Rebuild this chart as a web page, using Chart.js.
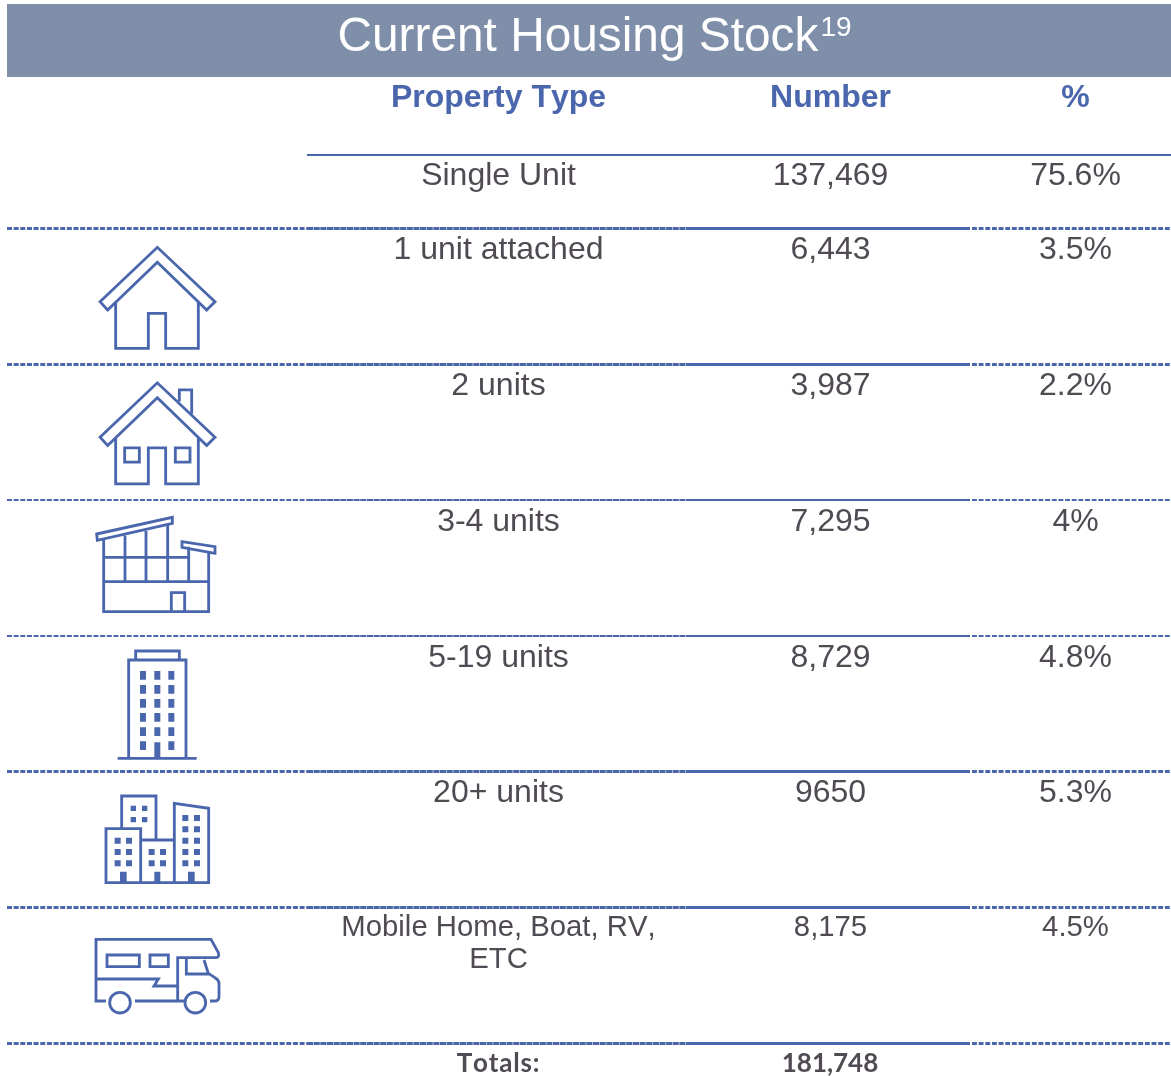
<!DOCTYPE html>
<html lang="en">
<head>
<meta charset="utf-8">
<title>Current Housing Stock</title>
<script src="https://cdn.jsdelivr.net/npm/chart.js@4"></script>
<style>
html,body{margin:0;padding:0;background:#fff;overflow:hidden}
canvas{display:block}
</style>
</head>
<body>
<canvas id="c" width="1171" height="1076"></canvas>
<script>
const chartTitle = 'Current Housing Stock';
const titleNote = '19';
const columnHeaders = ['Property Type', 'Number', '%'];
const propertyTypes = ['Single Unit', '1 unit attached', '2 units', '3-4 units', '5-19 units', '20+ units', 'Mobile Home, Boat, RV,|ETC'];
const unitCounts = ['137,469', '6,443', '3,987', '7,295', '8,729', '9650', '8,175'];
const unitShares = ['75.6%', '3.5%', '2.2%', '4%', '4.8%', '5.3%', '4.5%'];
const totalsLabel = 'Totals:';
const totalsValue = '181,748';

// Layout (table geometry, in axis units; the axes span the canvas)
const BLUE = '#4a66ac', INK = '#504a53', BAND = '#7f8fa9';
const colX = [498.5, 830.5, 1075.5];
const iconX = 80;
const ruleY = [228.5, 364.5, 500, 636, 771.5, 907.5, 1043.5];
const ruleW = [3, 3, 2, 2, 3, 3, 3];
const rowBase = [185, 259, 395, 531, 667, 802, 936];
const SEG = [7, 307, 687, 970, 972, 1171];

// Icons: SVG paths in a 3x grid, anchored to a rule line
const icons = [
  {row: 0, dy: 1.5, stroke: 'M60 215L232 52L405 215L380 240L232 97L83 240ZM107 215V355H205V250H257V355H355V215', fill: ''},
  {row: 1, dy: -134, stroke: 'M60 620L232 457L405 620L380 645L232 502L83 645ZM107 620V760H205V652H257V760H355V620M298 513V478H335V550M134 652H178V695H134ZM286 652H330V695H286Z', fill: ''},
  {row: 2, dy: 5, stroke: 'M50 87L277 37V55L52 106ZM306 110L405 125V145L306 127ZM71 103V320H386V140M135 92V230M198 78V230M263 60V230M326 125V230M71 157H326M71 230H386M274 320V263H314V320', fill: ''},
  {row: 3, dy: -131, stroke: 'M167 463V438H298V463M146 760V465H318V760', fill: 'M113 756H350V764H113ZM223 712H241V760H223Z' + [511,553,595,637,680,722].map(y => [189,232,274].filter(x => !(y === 722 && x === 232)).map(x => `M${x-9} ${y-13}h18v26h-18Z`).join('')).join('')},
  {row: 4, dy: 13.5, stroke: 'M125 130V33H228V165M78 131H182V293H78ZM182 165H283M283 293V55L386 70V293H283M182 293H283', fill: 'M120 260h20v33h-20ZM223 260h18v33h-18ZM324 260h20v33h-20Z' + [[160,70],[194,70],[160,104],[194,104]].map(p => `M${p[0]-8} ${p[1]-8}h16v16h-16Z`).join('') + [[113,167],[147,167],[113,201],[147,201],[113,235],[147,235],[215,201],[249,201],[215,235],[249,235],[316,99],[351,99],[316,133],[351,133],[316,167],[351,167],[316,201],[351,201],[316,235],[351,235]].map(p => `M${p[0]-9} ${p[1]-9}h18v18h-18Z`).join('')},
  {row: 5, dy: -122.5, stroke: 'M78 648H48V463H393L415 503Q420 518 405 518H293V648H165M293 648H312M390 648H403Q417 648 417 635V595Q417 585 405 578L385 565L372 525M319 522V567H385M48 582H235L222 603H293M81 510H178V545H81ZM210 510H265V545H210ZM151 653A31 31 0 1 1 89 653A31 31 0 1 1 151 653ZM377 653A31 31 0 1 1 315 653A31 31 0 1 1 377 653Z', fill: ''}
];

function seg(y, a, b, dash, width) {
  return {
    type: 'line',
    data: [{x: a, y: y}, {x: b, y: y}],
    borderColor: BLUE,
    borderWidth: width,
    borderDash: dash,
    borderCapStyle: 'butt',
    pointRadius: 0,
    fill: false,
    clip: false
  };
}
const datasets = [seg(155, SEG[1], SEG[5], [], 2)];
ruleY.forEach((y, i) => {
  const w = ruleW[i];
  datasets.push(seg(y, SEG[0], SEG[1], [5, 1.65], w));
  datasets.push(seg(y, SEG[1], SEG[2], [6.1, 0.55], w));
  datasets.push(seg(y, SEG[2], SEG[3], [], w));
  datasets.push(seg(y, SEG[4], SEG[5], [4.9, 1.75], w));
});

const tablePlugin = {
  id: 'table',
  beforeDatasetsDraw(chart) {
    const {ctx, scales: {x, y}} = chart;
    ctx.save();
    ctx.fillStyle = BAND;
    ctx.fillRect(x.getPixelForValue(7), y.getPixelForValue(4), x.getPixelForValue(1171) - x.getPixelForValue(7), y.getPixelForValue(77) - y.getPixelForValue(4));
    ctx.restore();
  },
  afterDatasetsDraw(chart) {
    const {ctx, scales: {x, y}} = chart;
    const put = (t, cx, by, font, color, align) => {
      ctx.font = font; ctx.fillStyle = color; ctx.textAlign = align || 'center'; ctx.textBaseline = 'alphabetic';
      ctx.fillText(t, x.getPixelForValue(cx), y.getPixelForValue(by));
    };
    ctx.save();
    ctx.fontKerning = 'none';
    put(chartTitle, 337.5, 50.5, '47.8px "Liberation Sans"', '#ffffff', 'left');
    put(titleNote, 820.5, 35.5, '28px "Liberation Sans"', '#ffffff', 'left');
    columnHeaders.forEach((h, i) => put(h, colX[i], 107, 'bold 32px "Liberation Sans"', BLUE));
    propertyTypes.forEach((name, i) => {
      const small = i === propertyTypes.length - 1;
      const f = (small ? 29.3 : 32) + 'px "Liberation Sans"';
      name.split('|').forEach((ln, k) => put(ln, colX[0], rowBase[i] + k * 32, f, INK));
      put(unitCounts[i], colX[1], rowBase[i], f, INK);
      put(unitShares[i], colX[2], rowBase[i], f, INK);
    });
    ctx.letterSpacing = '0.8px';
    put(totalsLabel, colX[0], 1072, 'bold 26px Lato', INK);
    ctx.letterSpacing = '0px';
    put(totalsValue, colX[1] - 0.5, 1072, 'bold 26px Lato', INK);
    // pictograms
    icons.forEach(ic => {
      ctx.save();
      ctx.translate(x.getPixelForValue(iconX), y.getPixelForValue(ruleY[ic.row] + ic.dy));
      ctx.scale(1/3, 1/3);
      ctx.strokeStyle = BLUE; ctx.fillStyle = BLUE; ctx.lineWidth = 8.5; ctx.lineJoin = 'miter';
      ctx.stroke(new Path2D(ic.stroke));
      if (ic.fill) ctx.fill(new Path2D(ic.fill));
      ctx.restore();
    });
    ctx.restore();
  }
};

new Chart(document.getElementById('c'), {
  type: 'scatter',
  data: {datasets},
  options: {
    responsive: false,
    animation: false,
    events: [],
    layout: {padding: 0},
    plugins: {legend: {display: false}, tooltip: {enabled: false}, title: {display: false}},
    scales: {
      x: {type: 'linear', min: 0, max: 1171, display: false},
      y: {type: 'linear', min: 0, max: 1076, reverse: true, display: false}
    }
  },
  plugins: [tablePlugin]
});
</script>
</body>
</html>
